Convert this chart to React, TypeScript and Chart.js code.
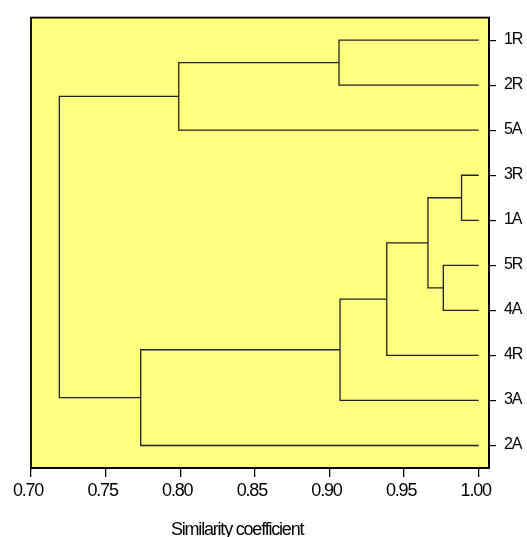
import React, { useEffect, useRef } from "react";
import { Chart, registerables } from "chart.js";

Chart.register(...registerables);

// Leaves (top to bottom)
const leafLabels = ["1R", "2R", "5A", "3R", "1A", "5R", "4A", "4R", "3A", "2A"];
// Merges: node ids 0..9 are leaves, merge k creates node 10+k
const mergeA = [3, 5, 10, 12, 13, 0, 15, 14, 16];
const mergeB = [4, 6, 11, 7, 8, 1, 2, 9, 17];
const mergeSimilarity = [0.9885, 0.9763, 0.966, 0.9384, 0.9071, 0.9064, 0.799, 0.7735, 0.719];
const xTickValues = [0.7, 0.75, 0.8, 0.85, 0.9, 0.95, 1.0];
const axisTitle = "Similarity coefficient";

const FONT = '"Liberation Sans", Arial, sans-serif';

function buildDatasets() {
  const nodeX: number[] = leafLabels.map(() => 1.0);
  const nodeY: number[] = leafLabels.map((_, i) => i);
  const datasets: any[] = [];
  mergeA.forEach((a, k) => {
    const b = mergeB[k];
    const s = mergeSimilarity[k];
    datasets.push({
      data: [
        { x: nodeX[a], y: nodeY[a] },
        { x: s, y: nodeY[a] },
        { x: s, y: nodeY[b] },
        { x: nodeX[b], y: nodeY[b] },
      ],
      showLine: true,
      borderColor: "#222",
      borderWidth: 1.3,
      pointRadius: 0,
      tension: 0,
      fill: false,
    });
    nodeX.push(s);
    nodeY.push((nodeY[a] + nodeY[b]) / 2);
  });
  return datasets;
}

const spacingPlugin = {
  id: "spacing",
  beforeLayout(chart: any) {
    chart.ctx.letterSpacing = "-1.2px";
  },
  beforeDraw(chart: any) {
    const { ctx, chartArea } = chart;
    ctx.letterSpacing = "-1.2px";
    ctx.save();
    ctx.fillStyle = "#ffff80";
    ctx.fillRect(chartArea.left, chartArea.top, chartArea.right - chartArea.left, chartArea.bottom - chartArea.top);
    ctx.restore();
  },
  afterDraw(chart: any) {
    const { ctx, chartArea } = chart;
    ctx.save();
    ctx.strokeStyle = "#000";
    ctx.lineWidth = 1.8;
    ctx.strokeRect(chartArea.left, chartArea.top, chartArea.right - chartArea.left, chartArea.bottom - chartArea.top);
    ctx.fillStyle = "#000";
    ctx.font = "18px " + FONT;
    ctx.letterSpacing = "-1.2px";
    ctx.textAlign = "center";
    ctx.textBaseline = "alphabetic";
    ctx.fillText(axisTitle, chartArea.left + 0.45 * (chartArea.right - chartArea.left), chart.height - 2);
    ctx.restore();
  },
};

export default function App() {
  const ref = useRef<HTMLCanvasElement>(null);
  useEffect(() => {
    if (!ref.current) return;
    const chart = new Chart(ref.current, {
      type: "scatter",
      data: { datasets: buildDatasets() },
      options: {
        animation: false,
        responsive: false,
        devicePixelRatio: 1,
        layout: { padding: { left: 31, top: 13, right: 0, bottom: 0 } },
        plugins: { legend: { display: false }, tooltip: { enabled: false } },
        scales: {
          x: {
            type: "linear",
            position: "bottom",
            min: 0.7,
            max: 1.0069,
            afterBuildTicks: (scale: any) => {
              scale.ticks = xTickValues.map((v) => ({ value: v }));
            },
            afterFit: (scale: any) => {
              scale.height = 69;
            },
            ticks: {
              color: "#000",
              font: { family: FONT, size: 18 },
              padding: 3,
              labelOffset: -3,
              maxRotation: 0,
              autoSkip: false,
              callback: (v: any) => Number(v).toFixed(2),
            },
            grid: { display: true, drawOnChartArea: false, drawTicks: true, tickLength: 9, color: "#000", lineWidth: 1.3 },
            border: { display: true, color: "#000", width: 1.8 },
          },
          y: {
            type: "linear",
            position: "right",
            reverse: true,
            min: -0.5,
            max: 9.5,
            afterBuildTicks: (scale: any) => {
              scale.ticks = leafLabels.map((_, i) => ({ value: i }));
            },
            afterFit: (scale: any) => {
              scale.width = 38;
            },
            ticks: {
              color: "#000",
              font: { family: FONT, size: 16 },
              padding: 8,
              labelOffset: -1,
              autoSkip: false,
              callback: (v: any) => leafLabels[Math.round(Number(v))] ?? "",
            },
            grid: { display: true, drawOnChartArea: false, drawTicks: true, tickLength: 7, color: "#000", lineWidth: 1.2 },
            border: { display: true, color: "#000", width: 1.8 },
          },
        },
      },
      plugins: [spacingPlugin],
    });
    return () => chart.destroy();
  }, []);
  return (
    <div style={{ position: "absolute", left: 0, top: 0, width: 527, height: 537, background: "#fff" }}>
      <canvas ref={ref} width={527} height={537} style={{ display: "block" }} />
    </div>
  );
}
